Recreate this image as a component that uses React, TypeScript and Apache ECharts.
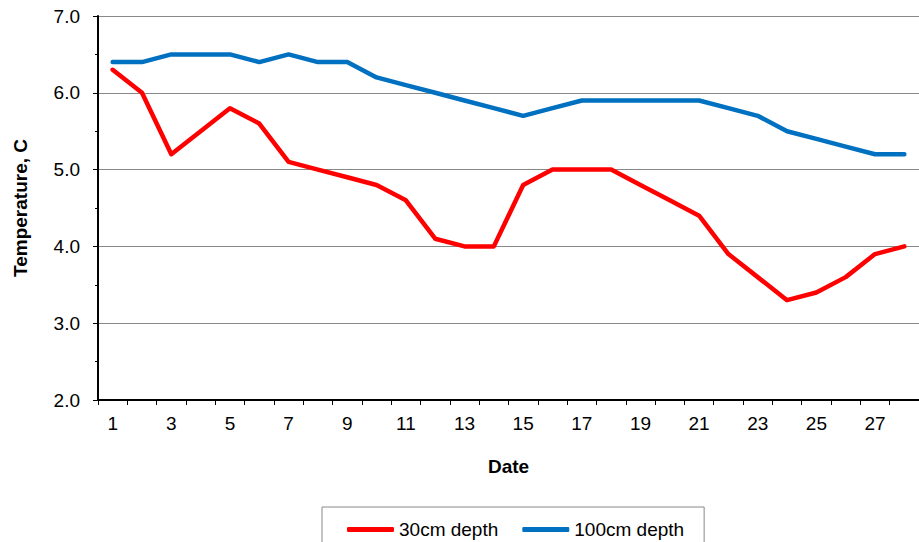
import React, { useEffect, useRef } from "react";
import * as echarts from "echarts";

const dates: string[] = Array.from({ length: 28 }, (_, i) => String(i + 1));
const depth30: number[] = [
  6.3, 6.0, 5.2, 5.5, 5.8, 5.6, 5.1, 5.0, 4.9, 4.8, 4.6, 4.1, 4.0, 4.0,
  4.8, 5.0, 5.0, 5.0, 4.8, 4.6, 4.4, 3.9, 3.6, 3.3, 3.4, 3.6, 3.9, 4.0,
];
const depth100: number[] = [
  6.4, 6.4, 6.5, 6.5, 6.5, 6.4, 6.5, 6.4, 6.4, 6.2, 6.1, 6.0, 5.9, 5.8,
  5.7, 5.8, 5.9, 5.9, 5.9, 5.9, 5.9, 5.8, 5.7, 5.5, 5.4, 5.3, 5.2, 5.2,
];
const seriesNames: string[] = ["30cm depth", "100cm depth"];
const yMin = 2;
const yMax = 7;
const yStep = 1;

const FONT = "'Liberation Sans', Arial, sans-serif";
const FS = 19;

export default function App() {
  const ref = useRef<HTMLDivElement>(null);

  useEffect(() => {
    if (!ref.current) return;
    const chart = echarts.init(ref.current, null, { renderer: "svg" });
    chart.setOption({
      animation: false,
      backgroundColor: "#ffffff",
      textStyle: { fontFamily: FONT },
      grid: { left: 98, top: 16, width: 826, height: 384, containLabel: false },
      legend: {
        left: 322,
        top: 507,
        orient: "horizontal",
        borderColor: "#888888",
        borderWidth: 1,
        padding: [13, 20, 13, 25],
        icon: "roundRect",
        itemWidth: 47,
        itemHeight: 5,
        itemGap: 24,
        textStyle: { fontSize: FS, color: "#000", fontFamily: FONT },
        data: seriesNames,
      },
      xAxis: {
        type: "category",
        data: dates,
        boundaryGap: true,
        name: "Date",
        nameLocation: "middle",
        nameGap: 57,
        nameTextStyle: { fontSize: FS, fontWeight: "bold", color: "#000", fontFamily: FONT },
        axisLine: { show: true, lineStyle: { color: "#000", width: 2 } },
        axisTick: { show: true, interval: 0, alignWithLabel: false, length: 5, lineStyle: { color: "#000", width: 1 } },
        axisLabel: { interval: 1, fontSize: FS, color: "#000", margin: 14, fontFamily: FONT },
        splitLine: { show: false },
      },
      yAxis: {
        type: "value",
        min: yMin,
        max: yMax,
        interval: yStep,
        name: "Temperature, C",
        nameLocation: "middle",
        nameRotate: 90,
        nameGap: 68,
        nameTextStyle: { fontSize: FS, fontWeight: "bold", color: "#000", fontFamily: FONT },
        axisLine: { show: true, lineStyle: { color: "#000", width: 2 } },
        axisTick: { show: true, length: 5, lineStyle: { color: "#000", width: 1 } },
        minorTick: { show: true, splitNumber: 2, length: 3, lineStyle: { color: "#000", width: 1 } },
        axisLabel: {
          fontSize: FS,
          color: "#000",
          margin: 18,
          fontFamily: FONT,
          formatter: (v: number) => v.toFixed(1),
        },
        splitLine: { show: true, lineStyle: { color: "#888888", width: 1 } },
      },
      series: [
        {
          name: seriesNames[0],
          type: "line",
          data: depth30,
          symbol: "none",
          showSymbol: false,
          lineStyle: { color: "#FF0000", width: 4.5, cap: "round", join: "round" },
          itemStyle: { color: "#FF0000" },
          z: 3,
        },
        {
          name: seriesNames[1],
          type: "line",
          data: depth100,
          symbol: "none",
          showSymbol: false,
          lineStyle: { color: "#0070C0", width: 4.5, cap: "round", join: "round" },
          itemStyle: { color: "#0070C0" },
          z: 2,
        },
      ],
    });
    return () => chart.dispose();
  }, []);

  return (
    <div
      ref={ref}
      style={{ position: "fixed", left: 0, top: 0, width: 919, height: 542, background: "#fff" }}
    />
  );
}
